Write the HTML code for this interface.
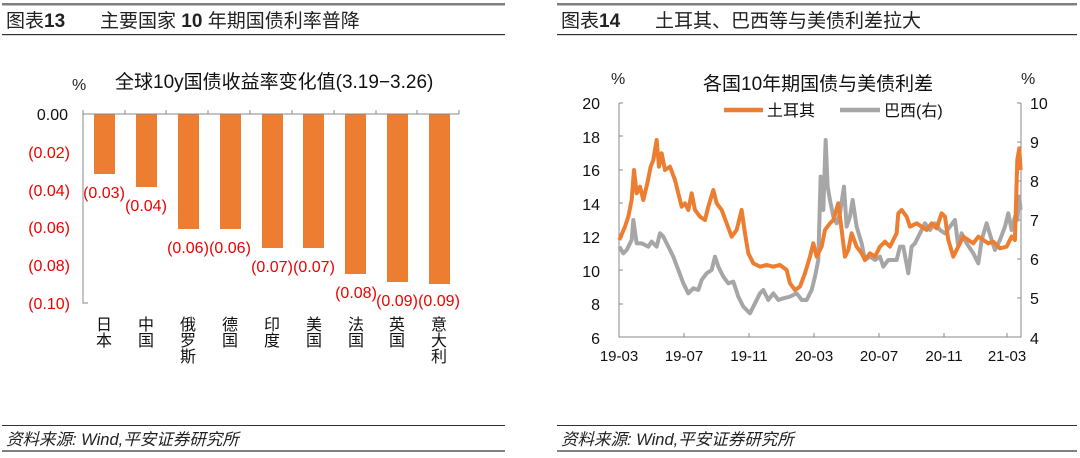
<!DOCTYPE html>
<html><head><meta charset="utf-8"><style>
body{margin:0;background:#fff;width:1080px;height:458px;overflow:hidden}
svg{display:block}
text{font-family:"Liberation Sans","Noto Sans CJK SC",sans-serif}
</style></head><body>
<svg width="1080" height="458" viewBox="0 0 1080 458">
<rect x="2" y="3" width="503" height="2.5" fill="#808080"/>
<rect x="2" y="34" width="503" height="1.2" fill="#333"/>
<rect x="2" y="425" width="503" height="1" fill="#333"/>
<rect x="2" y="450" width="503" height="2" fill="#808080"/>
<rect x="557" y="3" width="520" height="2.5" fill="#808080"/>
<rect x="557" y="34" width="520" height="1.2" fill="#333"/>
<rect x="557" y="425" width="520" height="1" fill="#333"/>
<rect x="557" y="450" width="520" height="2" fill="#808080"/>
<text x="6" y="27" font-size="19" fill="#222">图表<tspan font-weight="bold">13</tspan></text>
<text x="100" y="27" font-size="19" fill="#222">主要国家 <tspan font-weight="bold">10</tspan> 年期国债利率普降</text>
<text x="561" y="27" font-size="19" fill="#222">图表<tspan font-weight="bold">14</tspan></text>
<text x="655" y="27" font-size="19" fill="#222">土耳其、巴西等与美债利差拉大</text>
<text x="6" y="445" font-size="16.5" font-style="italic" fill="#222">资料来源: Wind,平安证券研究所</text>
<text x="561" y="445" font-size="16.5" font-style="italic" fill="#222">资料来源: Wind,平安证券研究所</text>

<text x="72" y="90" font-size="16" fill="#222">%</text>
<text x="115" y="88" font-size="19" fill="#111">全球10y国债收益率变化值(3.19−3.26)</text>
<g font-size="16" text-anchor="end">
<text x="68" y="120" fill="#111">0.00</text>
<text x="70" y="158" fill="#e00">(0.02)</text>
<text x="70" y="196" fill="#e00">(0.04)</text>
<text x="70" y="233" fill="#e00">(0.06)</text>
<text x="70" y="271" fill="#e00">(0.08)</text>
<text x="70" y="309" fill="#e00">(0.10)</text>
</g>
<g fill="#ed7d31">
<rect x="94" y="114" width="21" height="60"/>
<rect x="136" y="114" width="21" height="73"/>
<rect x="178" y="114" width="21" height="115"/>
<rect x="220" y="114" width="21" height="115"/>
<rect x="262" y="114" width="21" height="134"/>
<rect x="303" y="114" width="21" height="134"/>
<rect x="345" y="114" width="21" height="160"/>
<rect x="387" y="114" width="21" height="168"/>
<rect x="429" y="114" width="21" height="170"/>
</g>
<g stroke="#888" stroke-width="1" fill="none">
<path d="M83 114H459 M83 114V303H88"/>
<path d="M83 110V114M125 110V114M166 110V114M208 110V114M250 110V114M292 110V114M334 110V114M376 110V114M417 110V114M459 110V114"/>
</g>
<g font-size="16" fill="#e00" text-anchor="middle">
<text x="104" y="198">(0.03)</text>
<text x="146" y="211">(0.04)</text>
<text x="188" y="253">(0.06)</text>
<text x="230" y="253">(0.06)</text>
<text x="272" y="272">(0.07)</text>
<text x="314" y="272">(0.07)</text>
<text x="356" y="298">(0.08)</text>
<text x="397" y="306">(0.09)</text>
<text x="439" y="306">(0.09)</text>
</g>
<g font-size="16" fill="#111" text-anchor="middle">
<text x="104" y="330">日</text><text x="104" y="346">本</text>
<text x="146" y="330">中</text><text x="146" y="346">国</text>
<text x="188" y="330">俄</text><text x="188" y="346">罗</text><text x="188" y="362">斯</text>
<text x="230" y="330">德</text><text x="230" y="346">国</text>
<text x="272" y="330">印</text><text x="272" y="346">度</text>
<text x="314" y="330">美</text><text x="314" y="346">国</text>
<text x="356" y="330">法</text><text x="356" y="346">国</text>
<text x="397" y="330">英</text><text x="397" y="346">国</text>
<text x="439" y="330">意</text><text x="439" y="346">大</text><text x="439" y="362">利</text>
</g>

<text x="611" y="84" font-size="16" fill="#222">%</text>
<text x="1021" y="84" font-size="16" fill="#222">%</text>
<text x="703" y="90" font-size="19" fill="#111">各国10年期国债与美债利差</text>
<line x1="724" y1="110" x2="763" y2="110" stroke="#ed7d31" stroke-width="4.5"/>
<text x="767" y="116" font-size="16" fill="#111">土耳其</text>
<line x1="840" y1="110" x2="880" y2="110" stroke="#a6a6a6" stroke-width="4.5"/>
<text x="884" y="116" font-size="16" fill="#111">巴西(右)</text>
<g font-size="16" fill="#111" text-anchor="end">
<text x="600" y="109">20</text><text x="600" y="143">18</text><text x="600" y="176">16</text>
<text x="600" y="210">14</text><text x="600" y="243">12</text><text x="600" y="277">10</text>
<text x="600" y="310">8</text><text x="600" y="344">6</text>
</g>
<g font-size="16" fill="#111">
<text x="1030" y="109">10</text><text x="1030" y="148">9</text><text x="1030" y="187">8</text>
<text x="1030" y="226">7</text><text x="1030" y="265">6</text><text x="1030" y="304">5</text><text x="1030" y="344">4</text>
</g>
<g font-size="15" fill="#111" text-anchor="middle">
<text x="619" y="361">19-03</text><text x="684" y="361">19-07</text><text x="749" y="361">19-11</text>
<text x="814" y="361">20-03</text><text x="879" y="361">20-07</text><text x="944" y="361">20-11</text><text x="1007" y="361">21-03</text>
</g>
<g stroke="#888" stroke-width="1" fill="none">
<path d="M619 103V337H1021V103"/>
<path d="M619 103H623M619 136H623M619 170H623M619 203H623M619 237H623M619 270H623M619 304H623"/>
<path d="M1021 103H1017M1021 142H1017M1021 181H1017M1021 220H1017M1021 259H1017M1021 298H1017"/>
<path d="M684 337V333M749 337V333M814 337V333M879 337V333M944 337V333M1007 337V333"/>
</g>
<g transform="translate(560,60) scale(0.3333)" fill="none" stroke-width="12" stroke-linejoin="round">
<polyline stroke="#a6a6a6" points="178,560 190,580 200,570 215,540 220,480 230,550 245,550 265,560 275,545 290,560 300,520 310,530 325,560 340,590 355,630 370,670 385,700 400,685 415,690 425,660 440,640 455,630 465,590 475,620 490,650 505,670 520,665 535,710 550,740 570,760 585,730 600,700 610,690 625,720 640,700 655,720 670,715 690,710 710,700 725,720 740,720 755,690 765,650 775,600 782,350 790,450 797,240 803,380 810,420 820,470 830,490 840,460 852,380 860,500 870,470 878,420 890,500 905,550 915,600 930,590 945,600 960,590 970,620 985,600 1000,600 1010,600 1020,560 1030,560 1045,640 1055,560 1065,550 1080,520 1095,490 1110,510 1125,490 1140,510 1155,520 1170,500 1185,480 1195,560 1205,520 1220,550 1240,580 1255,610 1265,540 1280,490 1295,540 1305,570 1320,540 1335,500 1345,460 1355,510 1365,470 1372,480 1378,410 1382,450"/>
<polyline stroke="#ed7d31" points="178,540 195,500 205,470 215,420 222,330 230,400 240,380 250,420 262,370 272,320 280,300 290,240 297,320 305,280 315,330 330,320 345,360 355,400 365,440 375,430 385,450 395,400 405,450 420,470 435,480 445,440 460,390 470,430 485,450 500,490 515,530 530,510 545,450 555,520 565,580 580,610 600,620 620,615 640,620 660,615 680,630 690,670 705,690 720,680 735,640 750,590 760,550 770,590 785,560 795,510 810,490 820,480 835,430 845,510 855,590 865,570 875,520 890,560 905,580 915,600 930,580 945,590 960,560 975,545 990,560 1000,540 1010,520 1015,460 1025,450 1040,470 1050,500 1070,490 1085,500 1100,510 1115,490 1130,505 1145,460 1155,470 1165,540 1180,590 1195,560 1210,530 1225,540 1240,550 1255,530 1270,540 1285,550 1300,545 1320,565 1340,560 1355,530 1365,540 1372,300 1378,265 1382,330"/>
</g>
</svg>
</body></html>
